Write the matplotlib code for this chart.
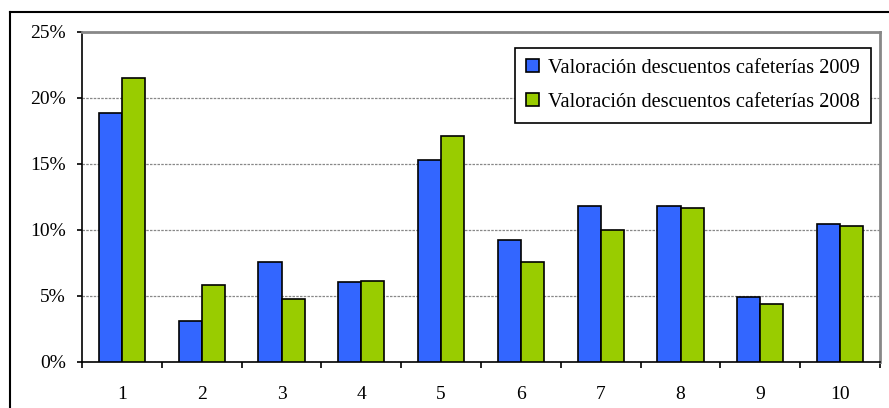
import matplotlib.pyplot as plt
import numpy as np
from matplotlib.lines import Line2D
from matplotlib.ticker import FuncFormatter, FixedLocator

categories = ["1", "2", "3", "4", "5", "6", "7", "8", "9", "10"]
val_2009 = [18.9, 3.1, 7.55, 6.05, 15.3, 9.25, 11.8, 11.8, 4.95, 10.45]
val_2008 = [21.5, 5.85, 4.8, 6.15, 17.1, 7.55, 10.0, 11.65, 4.4, 10.3]
label_2009 = "Valoración descuentos cafeterías 2009"
label_2008 = "Valoración descuentos cafeterías 2008"

plt.rcParams['font.family'] = ['Liberation Serif', 'DejaVu Serif']

fig = plt.figure(figsize=(8.89, 4.08), dpi=100)
ax = fig.add_axes([82/889, 46/408, 798/889, 330/408])

x = np.arange(len(categories))
w = 0.29
ax.bar(x - w/2, val_2009, w, color="#3366FF", edgecolor="black", linewidth=1.2,
       label=label_2009, zorder=3)
ax.bar(x + w/2, val_2008, w, color="#99CC00", edgecolor="black", linewidth=1.2,
       label=label_2008, zorder=3)

ax.set_xlim(-0.5, len(categories) - 0.5)
ax.set_ylim(0, 25)
ax.set_yticks([0, 5, 10, 15, 20, 25])
ax.yaxis.set_major_formatter(FuncFormatter(lambda v, p: "%d%%" % v))
ax.set_xticks(x)
ax.set_xticklabels(categories)
ax.xaxis.set_minor_locator(FixedLocator(np.arange(-0.5, len(categories), 1.0)))
ax.tick_params(axis="x", which="major", length=0, pad=17, labelsize=14)
ax.tick_params(axis="x", which="minor", length=4.3, width=1.2, direction="out")
ax.tick_params(axis="y", length=3.6, width=1.2, direction="out", labelsize=14, pad=8)

ax.grid(axis="y", color="#888888", linestyle=(0, (2, 1)), linewidth=0.9, zorder=0)

ax.spines["left"].set_linewidth(1.2)
ax.spines["bottom"].set_linewidth(1.2)
ax.spines["top"].set_color("#888888")
ax.spines["right"].set_color("#888888")
ax.spines["top"].set_linewidth(2)
ax.spines["right"].set_linewidth(2)

leg = ax.legend(loc="upper right", bbox_to_anchor=(0.9885, 0.953), fontsize=14.7,
                frameon=True, fancybox=False, edgecolor="black", framealpha=1,
                handlelength=0.6, handleheight=0.6, handletextpad=0.45,
                borderpad=0.55, labelspacing=0.75, borderaxespad=0)
leg.get_frame().set_linewidth(1.2)

# outer chart frame
fig.add_artist(Line2D([10/889, 10/889], [0, 1 - 12/408], color="black", linewidth=1.5))
fig.add_artist(Line2D([10/889, 1], [1 - 12/408, 1 - 12/408], color="black", linewidth=1.5))

fig.savefig("out.png", dpi=100)
